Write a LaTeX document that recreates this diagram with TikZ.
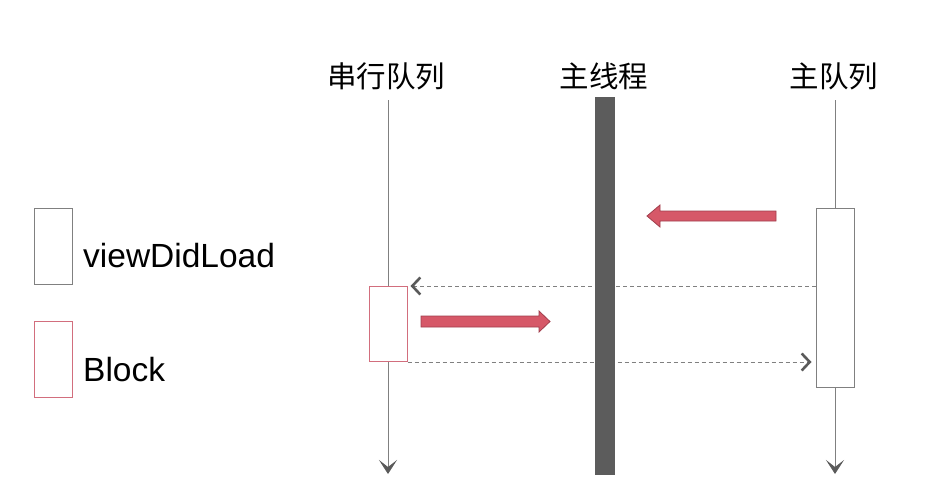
\documentclass[tikz,border=0pt]{standalone}
\usepackage{fontspec}
\setmainfont{Liberation Sans}
\newfontfamily\cjk{Noto Sans CJK SC}
\usetikzlibrary{arrows.meta,positioning}
\definecolor{lifegray}{RGB}{128,128,128}
\definecolor{tipgray}{RGB}{90,90,90}
\definecolor{bargray}{RGB}{92,92,92}
\definecolor{blockred}{RGB}{214,88,104}
\definecolor{blockedge}{RGB}{160,62,76}
\definecolor{boxred}{RGB}{210,110,125}

\begin{document}
\begin{tikzpicture}[x=1pt,y=-1pt,>=Latex,
  lane/.style={font=\cjk\fontsize{29.5}{31}\selectfont},
  lifeline/.style={lifegray,line width=0.9pt,-{Stealth[length=14pt,width=18pt,inset=7pt,color=tipgray]}},
  actbox/.style={draw=lifegray,fill=white,line width=1pt,minimum width=38pt,inner sep=0pt},
  blockbox/.style={actbox,draw=boxred},
  msg/.style={lifegray,line width=0.9pt,dash pattern=on 4pt off 3pt,-{Straight Barb[length=8pt,width=17pt,line width=2.6pt,color=tipgray]}},
  bigarrow/.style={fill=blockred,draw=blockedge,line width=0.8pt,line join=miter},
  legend/.style={font=\fontsize{33.5}{35}\selectfont,anchor=west,inner sep=0pt}]
  \useasboundingbox (0,0) rectangle (940,498);
  % lane titles
  \node[lane] (sq) at (386,76) {串行队列};
  \node[lane] (mt) at (604,76) {主线程};
  \node[lane] (mq) at (834,76) {主队列};
  % lifelines
  \coordinate (sqtop) at (388,100);
  \coordinate (sqend) at (388,474);
  \coordinate (mqtop) at (835,100);
  \coordinate (mqend) at (835,474);
  \draw[lifeline] (sqtop) -- (sqend);
  \draw[lifeline] (mqtop) -- (mqend);
  % activations
  \node[actbox,minimum height=179pt] (vdl) at (835,297.5) {};
  \node[blockbox,minimum height=75pt] (blk) at (388,324) {};
  % messages
  \draw[msg] (vdl.west |- blk.north) -- ([xshift=3pt]blk.north east);
  \draw[msg] (blk.south east) -- ([xshift=-4pt]vdl.west |- blk.south);
  % main thread
  \fill[bargray] (595,97) rectangle (615,475);
  % dispatch arrows
  \draw[bigarrow] (776,211) -- (660,211) -- (660,205) -- (647,216)
    -- (660,227) -- (660,221) -- (776,221) -- cycle;
  \draw[bigarrow] (421,316) -- (539,316) -- (539,311) -- (550,321.5)
    -- (539,332) -- (539,327) -- (421,327) -- cycle;
  % legend
  \node[actbox,minimum height=76pt] (lgvdl) at (53,246) {};
  \node[blockbox,minimum height=76pt] (lgblk) at (53,359) {};
  \node[legend] (lgvdltext) at (83,256) {viewDidLoad};
  \node[legend] (lgblktext) at (83,370) {Block};
\end{tikzpicture}
\end{document}
